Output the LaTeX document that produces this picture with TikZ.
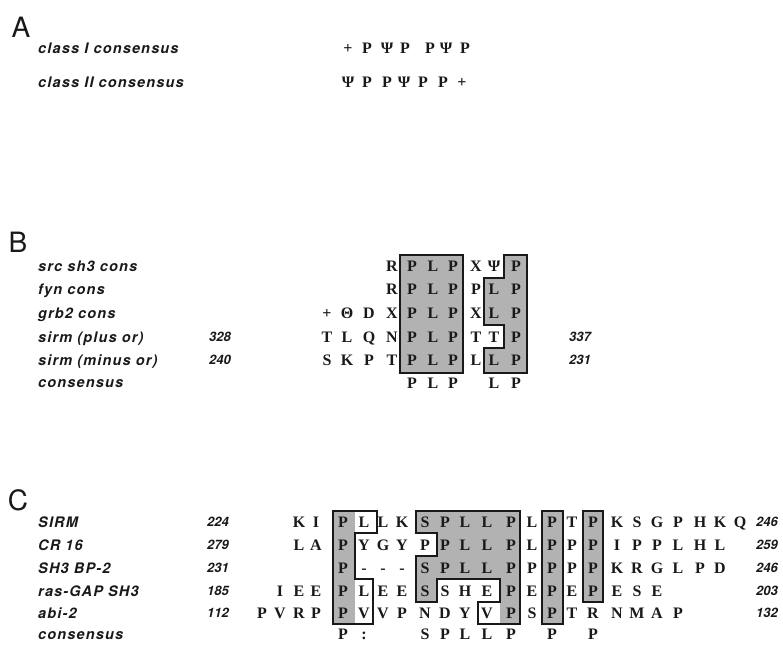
\documentclass[tikz,border=0pt]{standalone}
\usepackage{fontspec}
\setmainfont{Liberation Serif}
\setsansfont{TeX Gyre Heros}
\newfontfamily\namefont[LetterSpace=8]{TeX Gyre Heros}
\usetikzlibrary{positioning}
\definecolor{motifgray}{RGB}{178,178,178}
\definecolor{ink}{RGB}{25,25,25}
\tikzset{
  panel/.style={font=\sffamily\fontsize{28}{28}\selectfont,text=ink,inner sep=0pt},
  seqname/.style={anchor=west,inner sep=0pt,text height=10pt,text depth=0pt,
    font=\namefont\bfseries\itshape\fontsize{14.5}{15}\selectfont,text=ink},
  resno/.style={inner sep=0pt,text height=9pt,text depth=0pt,
    font=\sffamily\bfseries\itshape\fontsize{13}{13}\selectfont,text=ink},
  res/.style={inner sep=0pt,text height=10.5pt,text depth=0pt,
    font=\bfseries\fontsize{16}{16}\selectfont,text=ink},
  motif/.style={draw=ink,line width=1.3pt,line join=miter},
  motif fill/.style={fill=motifgray},
}
% column centres of the alignments
\def\colB{{327,347,369,392,412,433,453,476,494,516}}
\def\colC{{262,280,299,316,343,364,383,402,425,445,465,487,511,532,552,572,593,617,637,657,678,700,720,740}}

\begin{document}
\begin{tikzpicture}[x=1pt,y=-1pt]
  \useasboundingbox (0,0) rectangle (783,645);

  % panel A
  \node[panel] (pA) at (21,27) {A};
  \node[seqname] (nA1) at (38,48) {class I consensus};
  \node[seqname] (nA2) at (38,82) {class II consensus};
  \foreach \x/\s [count=\i] in {348/+,367/P,387/Ψ,405/P,430/P,446/Ψ,465/P}
    \node[res] (a1-\i) at (\x,48) {\s};
  \foreach \x/\s [count=\i] in {348/Ψ,367/P,387/P,404/Ψ,423/P,443/P,462/+}
    \node[res] (a2-\i) at (\x,82) {\s};

  % panel B
  \node[panel] (pB) at (18,242) {B};
  \fill[motif fill] (400,255) rectangle (463,373);
  \fill[motif fill] (504,255) -- (527,255) -- (527,373) -- (484,373) -- (484,348)
    -- (504,348) -- (504,325) -- (484,325) -- (484,278) -- (504,278) -- cycle;
  \foreach \y/\t [count=\i] in {266/src sh3 cons,289/fyn cons,313/grb2 cons,
      337/sirm (plus or),360/sirm (minus or),382/consensus}
    \node[seqname] (nB\i) at (38,\y) {\t};
  \foreach \r/\y/\st/\seq in {1/266/4/{R,P,L,P,X,Ψ,P},2/289/4/{R,P,L,P,P,L,P},
      3/313/1/{+,Θ,D,X,P,L,P,X,L,P},4/337/1/{T,L,Q,N,P,L,P,T,T,P},
      5/360/1/{S,K,P,T,P,L,P,L,L,P}}
    \foreach \s [count=\c from \st] in \seq {
      \pgfmathsetmacro\xc{\colB[\c-1]}
      \node[res] (b\r-\c) at (\xc,\y) {\s};
    }
  \foreach \c/\s in {5/P,6/L,7/P,9/L,10/P} {
    \pgfmathsetmacro\xc{\colB[\c-1]}
    \node[res] (bc-\c) at (\xc,383) {\s};
  }
  \node[resno] (bl4) at (220,337) {328};
  \node[resno] (bl5) at (220,360) {240};
  \node[resno] (br4) at (580,337) {337};
  \node[resno] (br5) at (580,360) {231};
  \draw[motif] (400,255) rectangle (463,373);
  \draw[motif] (504,255) -- (527,255) -- (527,373) -- (484,373) -- (484,348)
    -- (504,348) -- (504,325) -- (484,325) -- (484,278) -- (504,278) -- cycle;

  % panel C
  \begin{scope}[yshift=5pt]
  \node[panel] (pC) at (18,505) {C};
  \fill[motif fill] (333,516) rectangle (355,629);
  \fill[motif fill] (416,516) -- (520,516) -- (520,629) -- (500,629) -- (500,584)
    -- (437,584) -- (437,607) -- (416,607) -- (416,561) -- (437,561) -- (437,538)
    -- (416,538) -- cycle;
  \fill[motif fill] (542,516) rectangle (563,629);
  \fill[motif fill] (583,516) rectangle (603,607);
  \foreach \y/\t/\m/\n [count=\i] in {527/SIRM/224/246,550/CR 16/279/259,
      573/SH3 BP-2/231/246,596/ras-GAP SH3/185/203,618/abi-2/112/132} {
    \node[seqname] (nC\i) at (38,\y) {\t};
    \node[resno] (cl\i) at (218,\y) {\m};
    \node[resno] (cr\i) at (767,\y) {\n};
  }
  \node[seqname] (nC6) at (38,639) {consensus};
  \foreach \r/\y/\st/\seq in {
      1/527/3/{K,I,P,L,L,K,S,P,L,L,P,L,P,T,P,K,S,G,P,H,K,Q},
      2/550/3/{L,A,P,Y,G,Y,P,P,L,L,P,L,P,P,P,I,P,P,L,H,L},
      3/573/5/{P,-,-,-,S,P,L,L,P,P,P,P,P,K,R,G,L,P,D},
      4/596/2/{I,E,E,P,L,E,E,S,S,H,E,P,E,P,E,P,E,S,E},
      5/618/1/{P,V,R,P,P,V,V,P,N,D,Y,V,P,S,P,T,R,N,M,A,P}}
    \foreach \s [count=\c from \st] in \seq {
      \pgfmathsetmacro\xc{\colC[\c-1]}
      \node[res] (c\r-\c) at (\xc,\y) {\s};
    }
  \foreach \c/\s in {5/P,6/:,9/S,10/P,11/L,12/L,13/P,15/P,17/P} {
    \pgfmathsetmacro\xc{\colC[\c-1]}
    \node[res] (cc-\c) at (\xc,639) {\s};
  }
  \draw[motif] (333,516) -- (377,516) -- (377,538) -- (355,538) -- (355,584)
    -- (373,584) -- (373,629) -- (333,629) -- cycle;
  \draw[motif] (416,516) -- (520,516) -- (520,629) -- (478,629) -- (478,607)
    -- (500,607) -- (500,584) -- (437,584) -- (437,607) -- (416,607) -- (416,561)
    -- (437,561) -- (437,538) -- (416,538) -- cycle;
  \draw[motif] (542,516) rectangle (563,629);
  \draw[motif] (583,516) rectangle (603,607);
  \end{scope}
\end{tikzpicture}
\end{document}
